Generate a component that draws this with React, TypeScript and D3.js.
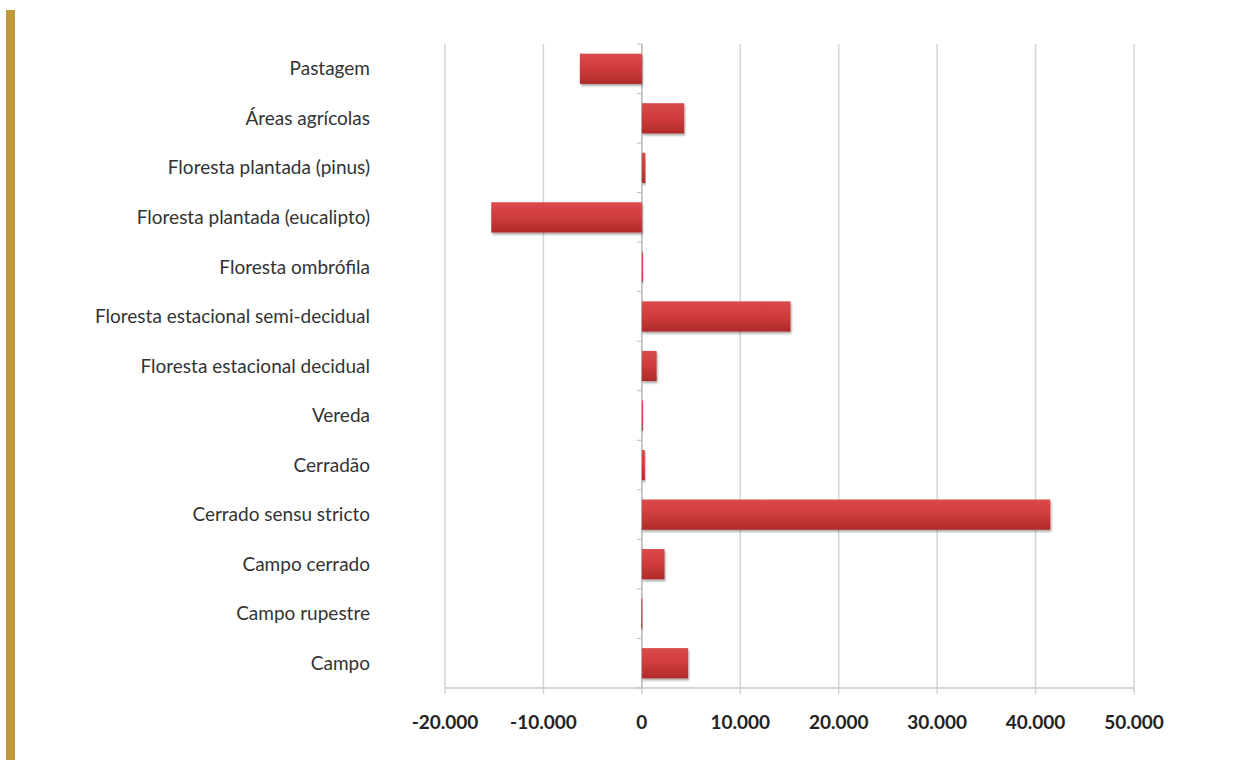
import React from "react";
import * as d3 from "d3";

const categories = [
  "Pastagem",
  "Áreas agrícolas",
  "Floresta plantada (pinus)",
  "Floresta plantada (eucalipto)",
  "Floresta ombrófila",
  "Floresta estacional semi-decidual",
  "Floresta estacional decidual",
  "Vereda",
  "Cerradão",
  "Cerrado sensu stricto",
  "Campo cerrado",
  "Campo rupestre",
  "Campo",
];
const values = [-6300, 4300, 350, -15300, 80, 15100, 1500, 80, 300, 41500, 2300, -60, 4700];
const xTicks = [-20000, -10000, 0, 10000, 20000, 30000, 40000, 50000];
const fmt = (v: number) => (v < 0 ? "-" : "") + d3.format(",")(Math.abs(v)).replace(/,/g, ".");

export default function App() {
  const W = 1245, H = 760;
  const left = 445, right = 1134, top = 44, bottom = 688;
  const x = d3.scaleLinear().domain([-20000, 50000]).range([left, right]);
  const y = d3.scaleBand().domain(categories).range([top, bottom]).paddingInner(0.39).paddingOuter(0.195);
  const x0 = x(0);
  return (
    <svg width={W} height={H} style={{ position: "absolute", left: 0, top: 0 }}>
      <defs>
        <linearGradient id="barg" x1="0" y1="0" x2="0" y2="1">
          <stop offset="0" stopColor="#DA4A4A" />
          <stop offset="0.5" stopColor="#CF3C3C" />
          <stop offset="1" stopColor="#AE2A2A" />
        </linearGradient>
        <filter id="sh" x="-10%" y="-20%" width="130%" height="160%">
          <feGaussianBlur in="SourceAlpha" stdDeviation="1.2" />
          <feOffset dx="1" dy="1.5" result="b" />
          <feComponentTransfer><feFuncA type="linear" slope="0.35" /></feComponentTransfer>
          <feMerge><feMergeNode /><feMergeNode in="SourceGraphic" /></feMerge>
        </filter>
      </defs>
      <rect x={0} y={0} width={W} height={H} fill="#fff" />
      <rect x={6} y={10} width={9} height={H - 10} fill="#BF9A3C" />
      {xTicks.map((t) => (
        <line key={t} x1={x(t)} x2={x(t)} y1={top} y2={bottom + 6} stroke="#D4D4D4" strokeWidth={1.5} />
      ))}
      <line x1={left} x2={right} y1={bottom} y2={bottom} stroke="#C8C8C8" strokeWidth={1.5} />
      <line x1={x0} x2={x0} y1={top} y2={bottom} stroke="#BDBDBD" strokeWidth={1.5} />
      {d3.range(categories.length + 1).map((i) => {
        const yy = top + (i * (bottom - top)) / categories.length;
        return <line key={i} x1={x0 - 5} x2={x0} y1={yy} y2={yy} stroke="#BDBDBD" strokeWidth={1} />;
      })}
      {categories.map((c, i) => {
        const v = values[i];
        const bx = Math.min(x(v), x0);
        const bw = Math.abs(x(v) - x0);
        return (
          <rect key={c} x={bx} y={y(c)} width={Math.max(bw, 1)} height={y.bandwidth()} fill="url(#barg)" filter="url(#sh)" />
        );
      })}
      {categories.map((c) => (
        <text key={c} x={370} y={(y(c) as number) + y.bandwidth() / 2} dy="0.35em" textAnchor="end"
          fontFamily="Lato, 'Open Sans', sans-serif" fontSize={19} fill="#333">{c}</text>
      ))}
      {xTicks.map((t) => (
        <text key={t} x={x(t)} y={722} dy="0.35em" textAnchor="middle"
          fontFamily="Lato, 'Open Sans', sans-serif" fontWeight="bold" fontSize={19} fill="#222">{fmt(t)}</text>
      ))}
    </svg>
  );
}
